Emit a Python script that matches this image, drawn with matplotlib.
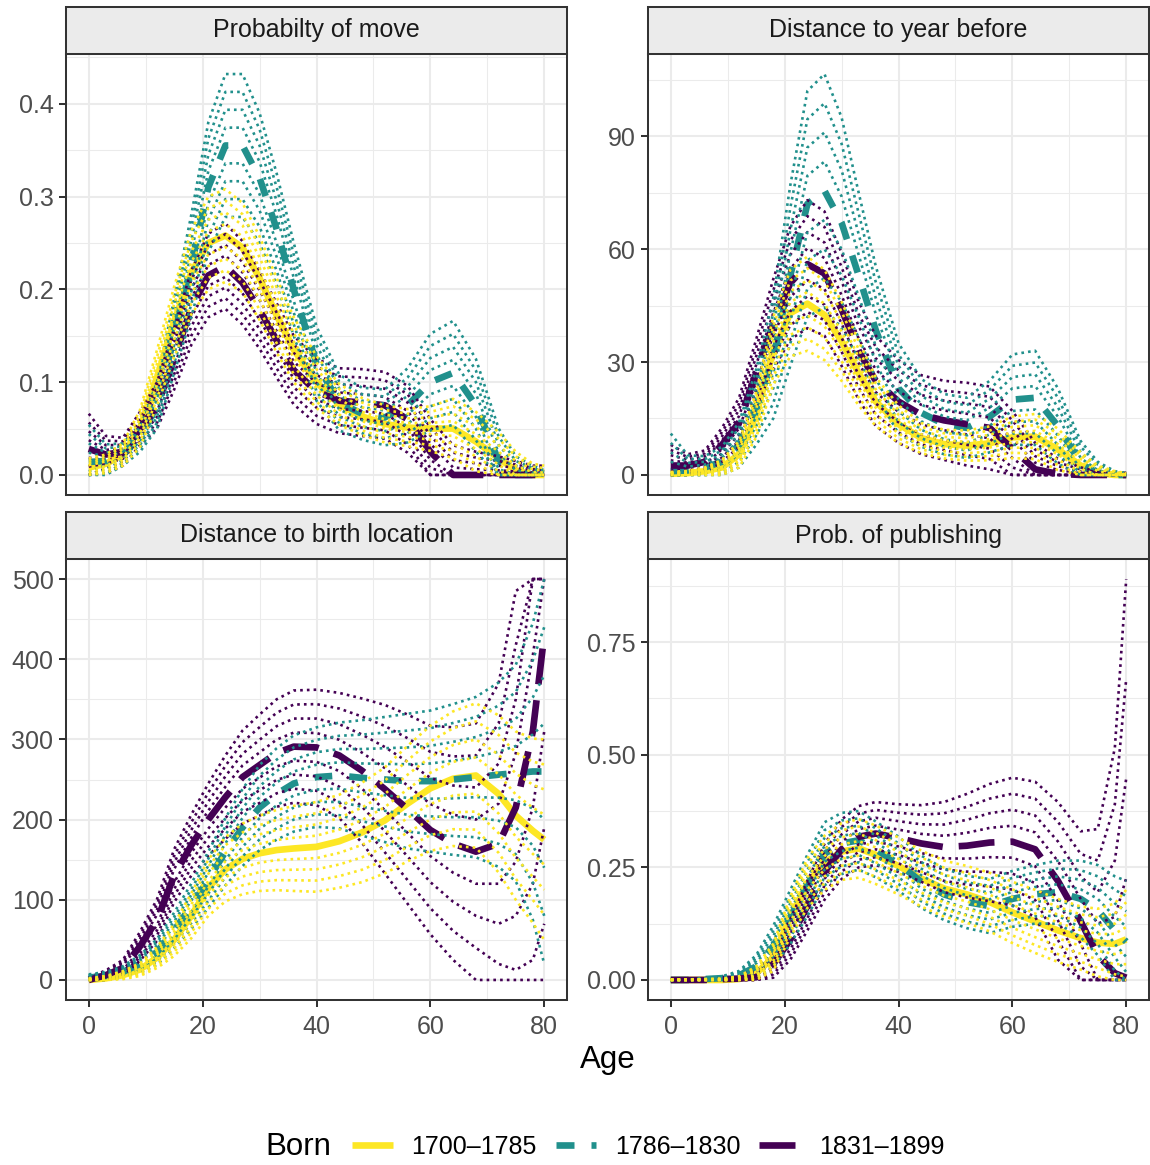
import numpy as np
import matplotlib
matplotlib.use("Agg")
import matplotlib.pyplot as plt
from matplotlib.lines import Line2D
from matplotlib.ticker import FixedLocator

plt.rcParams['font.family'] = ['Liberation Sans', 'DejaVu Sans']

# ---- data ----
ages = [0, 3, 6, 9, 12, 15, 18, 21, 24, 27, 30, 33, 36, 40, 44, 48, 52, 56, 60, 64, 68, 72, 75, 78, 80]

born_labels = ["1700\u20131785", "1786\u20131830", "1831\u20131899"]
panel_titles = ["Probabilty of move", "Distance to year before",
                "Distance to birth location", "Prob. of publishing"]

# Probability of move: central curve and band half-width per cohort
move_early = [0.008, 0.012, 0.022, 0.05, 0.105, 0.165, 0.218, 0.25, 0.258, 0.245, 0.212, 0.172, 0.135,
              0.1, 0.076, 0.063, 0.055, 0.051, 0.05, 0.05, 0.036, 0.018, 0.005, 0.0, 0.0]
move_early_sd = [0.01, 0.01, 0.012, 0.02, 0.03, 0.038, 0.045, 0.05, 0.05, 0.048, 0.045, 0.04, 0.035,
                 0.028, 0.022, 0.02, 0.02, 0.02, 0.024, 0.032, 0.032, 0.028, 0.02, 0.012, 0.01]
move_mid = [0.014, 0.015, 0.022, 0.04, 0.075, 0.15, 0.225, 0.31, 0.355, 0.355, 0.32, 0.265, 0.2,
            0.12, 0.078, 0.066, 0.062, 0.075, 0.1, 0.11, 0.075, 0.015, 0.0, 0.0, 0.0]
move_mid_sd = [0.04, 0.018, 0.012, 0.015, 0.025, 0.04, 0.055, 0.07, 0.077, 0.077, 0.07, 0.06, 0.05,
               0.04, 0.03, 0.028, 0.03, 0.04, 0.052, 0.056, 0.05, 0.035, 0.02, 0.01, 0.005]
move_late = [0.028, 0.022, 0.025, 0.05, 0.075, 0.125, 0.18, 0.215, 0.225, 0.207, 0.178, 0.145, 0.113,
             0.09, 0.08, 0.078, 0.075, 0.06, 0.025, 0.0, 0.0, 0.0, 0.0, 0.0, 0.0]
move_late_sd = [0.038, 0.02, 0.015, 0.018, 0.025, 0.033, 0.04, 0.045, 0.046, 0.045, 0.042, 0.04, 0.037,
                0.035, 0.035, 0.036, 0.036, 0.036, 0.035, 0.032, 0.025, 0.02, 0.015, 0.01, 0.01]

# Distance to year before
dist_early = [0.3, 0.5, 1.0, 2.0, 5.5, 16, 33, 43, 45.5, 42.5, 35.5, 27, 19.5,
              13.5, 9.8, 8.2, 7.8, 8.4, 10, 10.2, 6.8, 2.5, 0.5, 0.0, 0.0]
dist_early_sd = [0.5, 0.6, 1, 2, 3.5, 6, 9, 11.5, 12.5, 12, 10.5, 8.5, 6.5,
                 5, 4, 3.8, 4, 4.5, 5.5, 6, 5.5, 3.5, 2, 1, 0.5]
dist_mid = [1.0, 1.2, 2.0, 3.5, 8, 18, 31, 53, 72, 75.5, 67, 53, 38.5,
            23, 16.5, 13.5, 12.5, 15.5, 20, 20.5, 13, 3, 0.5, 0, 0]
dist_mid_sd = [10, 4, 3, 4, 6, 10, 16, 24, 30, 31, 28, 22, 17,
               12, 9, 8, 8, 9.5, 12, 12.5, 10, 6, 3, 1, 0.5]
dist_late = [2.5, 2.5, 3.5, 8, 14, 27, 40, 51, 56, 53.5, 44, 33, 25,
             19.5, 16, 14.5, 13.5, 12.5, 7, 1.5, 0.3, 0, 0, 0, 0]
dist_late_sd = [5.5, 3, 3, 4.5, 6.5, 9, 12, 15, 17, 16.5, 15, 13, 12,
                11, 10.5, 10.5, 11, 11, 10, 7, 4, 2, 1, 0.5, 0.5]

# Distance to birth location (values above 500 are squished)
birth_early = [0, 2, 6, 13, 28, 50, 80, 115, 138, 151, 158, 162, 164,
               166, 173, 184, 199, 220, 239, 251, 255, 232, 205, 186, 175]
birth_early_sd = [2, 3, 5, 8, 13, 20, 28, 35, 40, 44, 47, 50, 53,
                  56, 58, 62, 66, 72, 78, 84, 90, 98, 105, 115, 125]
birth_mid = [3, 5, 10, 20, 35, 62, 92, 125, 160, 190, 215, 232, 245,
             253, 255, 252, 250, 248, 248, 250, 253, 256, 258, 260, 260]
birth_mid_sd = [4, 5, 7, 11, 16, 22, 28, 35, 42, 48, 53, 57, 60,
                62, 66, 72, 78, 84, 88, 94, 100, 115, 135, 185, 240]
birth_late = [0, 6, 15, 42, 75, 130, 168, 200, 228, 253, 268, 283, 291,
              290, 280, 261, 238, 213, 187, 170, 160, 170, 215, 310, 430]
birth_late_sd = [3, 6, 10, 18, 26, 33, 38, 45, 52, 58, 63, 67, 70,
                 72, 78, 90, 105, 118, 130, 145, 160, 200, 270, 380, 480]

# Probability of publishing
pub_early = [0, 0, 0, 0, 0.002, 0.015, 0.05, 0.14, 0.215, 0.26, 0.285, 0.292, 0.278,
             0.253, 0.225, 0.203, 0.19, 0.173, 0.15, 0.13, 0.11, 0.093, 0.083, 0.08, 0.09]
pub_early_sd = [0.001, 0.001, 0.002, 0.003, 0.006, 0.015, 0.03, 0.045, 0.055, 0.06, 0.063, 0.065, 0.065,
                0.063, 0.062, 0.062, 0.063, 0.065, 0.068, 0.07, 0.07, 0.07, 0.075, 0.09, 0.11]
pub_mid = [0, 0, 0.002, 0.004, 0.01, 0.03, 0.075, 0.14, 0.21, 0.28, 0.303, 0.31, 0.29,
           0.258, 0.218, 0.19, 0.173, 0.164, 0.18, 0.19, 0.195, 0.18, 0.155, 0.11, 0.085]
pub_mid_sd = [0.001, 0.001, 0.002, 0.004, 0.01, 0.025, 0.045, 0.06, 0.068, 0.07, 0.068, 0.065, 0.062,
              0.06, 0.058, 0.057, 0.058, 0.06, 0.062, 0.065, 0.07, 0.085, 0.1, 0.12, 0.135]
pub_late = [0, 0, 0, 0.002, 0.003, 0.006, 0.035, 0.09, 0.165, 0.24, 0.29, 0.318, 0.325,
            0.315, 0.303, 0.295, 0.298, 0.305, 0.307, 0.29, 0.22, 0.13, 0.055, 0.015, 0.005]
pub_late_sd = [0.001, 0.001, 0.002, 0.004, 0.008, 0.015, 0.03, 0.045, 0.055, 0.062, 0.066, 0.068, 0.07,
               0.075, 0.085, 0.1, 0.115, 0.13, 0.142, 0.15, 0.175, 0.2, 0.28, 0.5, 0.885]

y_breaks = [[0, 0.1, 0.2, 0.3, 0.4], [0, 30, 60, 90],
            [0, 100, 200, 300, 400, 500], [0, 0.25, 0.5, 0.75]]
y_labels = [["0.0", "0.1", "0.2", "0.3", "0.4"], ["0", "30", "60", "90"],
            ["0", "100", "200", "300", "400", "500"], ["0.00", "0.25", "0.50", "0.75"]]
y_caps = [np.inf, np.inf, 500, np.inf]

# ---- styling ----
colors = ["#FDE725", "#21908C", "#440154"]
main_styles = ["-", (0, (2.7, 2.55)), (0, (5.4, 2.4))]
MAIN_LW = 4.8
DOT_LW = 1.9
SMALL = 18
BIG = 22.5
band_steps = [-1.0, -0.75, -0.5, -0.25, 0.25, 0.5, 0.75, 1.0]

panels = [
    [(move_early, move_early_sd), (move_mid, move_mid_sd), (move_late, move_late_sd)],
    [(dist_early, dist_early_sd), (dist_mid, dist_mid_sd), (dist_late, dist_late_sd)],
    [(birth_early, birth_early_sd), (birth_mid, birth_mid_sd), (birth_late, birth_late_sd)],
    [(pub_early, pub_early_sd), (pub_mid, pub_mid_sd), (pub_late, pub_late_sd)],
]

W, H = 1150, 1165
fig = plt.figure(figsize=(W / 100, H / 100), dpi=100)


def px_rect(x0, y0, x1, y1):
    return [x0 / W, 1 - y1 / H, (x1 - x0) / W, (y1 - y0) / H]


panel_boxes = [(66, 54, 567, 495), (648, 54, 1149, 495),
               (66, 559, 567, 1000), (648, 559, 1149, 1000)]
strip_h = 47

x = np.array(ages, dtype=float)
for i, (box, groups) in enumerate(zip(panel_boxes, panels)):
    ax = fig.add_axes(px_rect(*box))
    cap = y_caps[i]
    top = 0.0

    # thick central lines: yellow underneath, purple on top
    for g, (mean, sd) in enumerate(groups):
        y = np.clip(np.array(mean, dtype=float), 0, cap)
        ax.plot(x, y, color=colors[g], lw=MAIN_LW, ls=main_styles[g],
                solid_capstyle='butt', dash_capstyle='butt', zorder=2 + 0.1 * g)
        top = max(top, y.max())

    # dotted band lines drawn over the central lines
    for g in [2, 1, 0]:
        mean, sd = groups[g]
        mean = np.array(mean, dtype=float)
        sd = np.array(sd, dtype=float)
        for s in band_steps:
            y = np.clip(mean + s * sd, 0, cap)
            top = max(top, y.max())
            ax.plot(x, y, color=colors[g], lw=DOT_LW, ls=(0, (1, 1.55)),
                    dash_capstyle='butt', zorder=3 + 0.1 * (2 - g))

    ax.set_xlim(-4, 84)
    ax.set_ylim(-0.05 * top, 1.05 * top)

    ax.xaxis.set_major_locator(FixedLocator([0, 20, 40, 60, 80]))
    ax.xaxis.set_minor_locator(FixedLocator([10, 30, 50, 70]))
    ax.set_yticks(y_breaks[i])
    ax.set_yticklabels(y_labels[i])
    steps = y_breaks[i][1] - y_breaks[i][0]
    minors = [b + steps / 2 for b in y_breaks[i]] + [y_breaks[i][0] - steps / 2]
    ax.yaxis.set_minor_locator(FixedLocator(minors))

    ax.set_axisbelow(True)
    ax.grid(which='major', color='#EBEBEB', lw=1.45)
    ax.grid(which='minor', color='#EBEBEB', lw=0.75)
    for sp in ax.spines.values():
        sp.set_color('#333333')
        sp.set_linewidth(1.45)
    ax.tick_params(which='major', length=5, width=1.45, color='#333333',
                   labelcolor='#4D4D4D', labelsize=SMALL)
    ax.tick_params(axis='y', pad=4.0)
    ax.tick_params(axis='x', pad=6.0)
    ax.tick_params(which='minor', length=0)
    if i < 2:
        ax.tick_params(axis='x', bottom=False, labelbottom=False)

    # facet strip
    sx0, sy0, sx1, sy1 = box
    sax = fig.add_axes(px_rect(sx0, sy0 - strip_h, sx1, sy0))
    sax.set_facecolor('#EBEBEB')
    sax.set_xticks([])
    sax.set_yticks([])
    for sp in sax.spines.values():
        sp.set_color('#333333')
        sp.set_linewidth(1.45)
    sax.text(0.5, 0.5, panel_titles[i], ha='center', va='center',
             fontsize=SMALL, color='#1A1A1A', transform=sax.transAxes)

fig.text(607.5 / W, 1 - 1060 / H, "Age", ha='center', va='center', fontsize=BIG)

# legend at the bottom
handles = [Line2D([], [], color=colors[g], lw=MAIN_LW, ls=main_styles[g],
                  solid_capstyle='butt', dash_capstyle='butt') for g in range(3)]
fig.legend(handles, born_labels, loc='center left',
           bbox_to_anchor=(352 / W, 1 - 1147 / H), ncol=3, frameon=False,
           fontsize=SMALL, handlelength=1.62, handletextpad=0.76,
           columnspacing=0.75, borderpad=0, borderaxespad=0)
fig.text(331 / W, 1 - 1147 / H, "Born", ha='right', va='center', fontsize=BIG)

fig.savefig("out.png", dpi=100)
